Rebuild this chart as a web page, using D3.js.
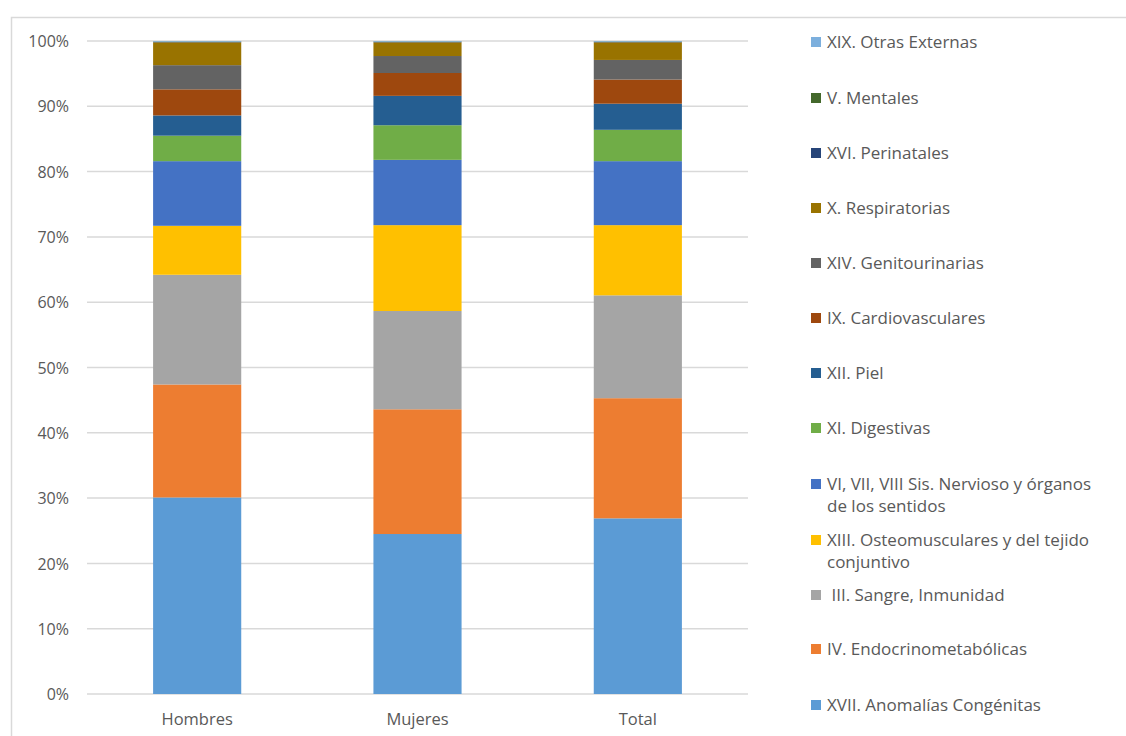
<!DOCTYPE html>
<html>
<head>
<meta charset="utf-8">
<script src="https://cdn.jsdelivr.net/npm/d3@7"></script>
<style>
  html, body { margin: 0; padding: 0; background: #fff; }
  svg { display: block; }
  text { font-family: "Open Sans", "Noto Sans", sans-serif; fill: #595959; white-space: pre; }
</style>
</head>
<body>
<svg id="chart" width="1126" height="736"></svg>
<script>
const categories = ["Hombres", "Mujeres", "Total"];

// series in stacking order (bottom to top)
const seriesNames = [
  "XVII. Anomalías Congénitas",
  "IV. Endocrinometabólicas",
  " III. Sangre, Inmunidad",
  "XIII. Osteomusculares y del tejido conjuntivo",
  "VI, VII, VIII Sis. Nervioso y órganos de los sentidos",
  "XI. Digestivas",
  "XII. Piel",
  "IX. Cardiovasculares",
  "XIV. Genitourinarias",
  "X. Respiratorias",
  "XVI. Perinatales",
  "V. Mentales",
  "XIX. Otras Externas"
];
const legendLines = [
  ["XVII. Anomalías Congénitas"],
  ["IV. Endocrinometabólicas"],
  [" III. Sangre, Inmunidad"],
  ["XIII. Osteomusculares y del tejido", "conjuntivo"],
  ["VI, VII, VIII Sis. Nervioso y órganos", "de los sentidos"],
  ["XI. Digestivas"],
  ["XII. Piel"],
  ["IX. Cardiovasculares"],
  ["XIV. Genitourinarias"],
  ["X. Respiratorias"],
  ["XVI. Perinatales"],
  ["V. Mentales"],
  ["XIX. Otras Externas"]
];
const seriesColors = [
  "#5B9BD5", "#ED7D31", "#A5A5A5", "#FFC000", "#4472C4", "#70AD47",
  "#255E91", "#9E480E", "#636363", "#997300", "#264478", "#43682B", "#7CAFDD"
];

// percentages per series: [Hombres, Mujeres, Total]
const anomalias      = [30.1, 24.5, 26.9];
const endocrino      = [17.3, 19.1, 18.4];
const sangre         = [16.8, 15.05, 15.75];
const osteo          = [7.5, 13.15, 10.75];
const nervioso       = [9.9, 10.0, 9.8];
const digestivas     = [3.9, 5.3, 4.8];
const piel           = [3.1, 4.5, 4.0];
const cardio         = [4.0, 3.5, 3.7];
const genito         = [3.7, 2.6, 3.0];
const respiratorias  = [3.5, 2.1, 2.7];
const perinatales    = [0.05, 0.05, 0.05];
const mentales       = [0.05, 0.05, 0.05];
const otrasExternas  = [0.1, 0.1, 0.1];

const yTicks = [0, 10, 20, 30, 40, 50, 60, 70, 80, 90, 100];

const seriesValues = [anomalias, endocrino, sangre, osteo, nervioso, digestivas,
  piel, cardio, genito, respiratorias, perinatales, mentales, otrasExternas];

const table = categories.map((c, i) => {
  const row = { category: c };
  seriesNames.forEach((s, k) => { row[s] = seriesValues[k][i]; });
  return row;
});

const svg = d3.select("#chart");

// chart border
svg.append("rect")
  .attr("x", 11.5).attr("y", 17.5)
  .attr("width", 1200).attr("height", 800)
  .attr("fill", "none").attr("stroke", "#d9d9d9").attr("stroke-width", 1.5);

const plot = { left: 87, right: 748, top: 41, bottom: 694 };

const x = d3.scaleBand().domain(categories)
  .range([plot.left, plot.right]).paddingInner(0.6).paddingOuter(0.3);
const y = d3.scaleLinear().domain([0, 100]).range([plot.bottom, plot.top]);

// gridlines
svg.append("g").selectAll("line").data(yTicks).join("line")
  .attr("x1", plot.left).attr("x2", plot.right)
  .attr("y1", d => y(d)).attr("y2", d => y(d))
  .attr("stroke", "#d9d9d9").attr("stroke-width", 1.5);

// y axis labels
const yAxis = d3.axisLeft(y).tickValues(yTicks).tickFormat(d => d + "%").tickSize(0).tickPadding(0);
const gy = svg.append("g").attr("transform", `translate(69,0)`).call(yAxis);
gy.select(".domain").remove();
gy.selectAll("text").style("font-size", "16px").attr("fill", "#595959")
  .style("font-family", '"Open Sans", sans-serif').attr("dy", "0.35em");

// stacks
const stack = d3.stack().keys(seriesNames);
const stacked = stack(table);

svg.append("g").selectAll("g").data(stacked).join("g")
  .attr("fill", (d, i) => seriesColors[i])
  .selectAll("rect").data(d => d).join("rect")
  .attr("x", d => x(d.data.category))
  .attr("width", x.bandwidth())
  .attr("y", d => y(d[1]))
  .attr("height", d => Math.max(0, y(d[0]) - y(d[1])));

// x axis labels
const xAxis = d3.axisBottom(x).tickSize(0).tickPadding(0);
const gx = svg.append("g").attr("transform", `translate(0,${plot.bottom + 25})`).call(xAxis);
gx.select(".domain").remove();
gx.selectAll("text").style("font-size", "16.5px").attr("fill", "#595959")
  .style("font-family", '"Open Sans", sans-serif').attr("dy", "0.35em");

// legend (top item = last series)
const legendY = [705, 649, 595, 540, 484, 428, 373, 318, 263, 208, 153, 98, 42];
const lg = svg.append("g");
seriesNames.forEach((s, k) => {
  const yy = legendY[k];
  lg.append("rect").attr("x", 811).attr("y", yy - 5).attr("width", 10).attr("height", 10)
    .attr("fill", seriesColors[k]);
  const t = lg.append("text").attr("x", 827).attr("y", yy)
    .style("font-size", "17px");
  legendLines[k].forEach((line, j) => {
    t.append("tspan").attr("x", 827).attr("dy", j === 0 ? "0.35em" : "22px").text(line);
  });
});
</script>
</body>
</html>
